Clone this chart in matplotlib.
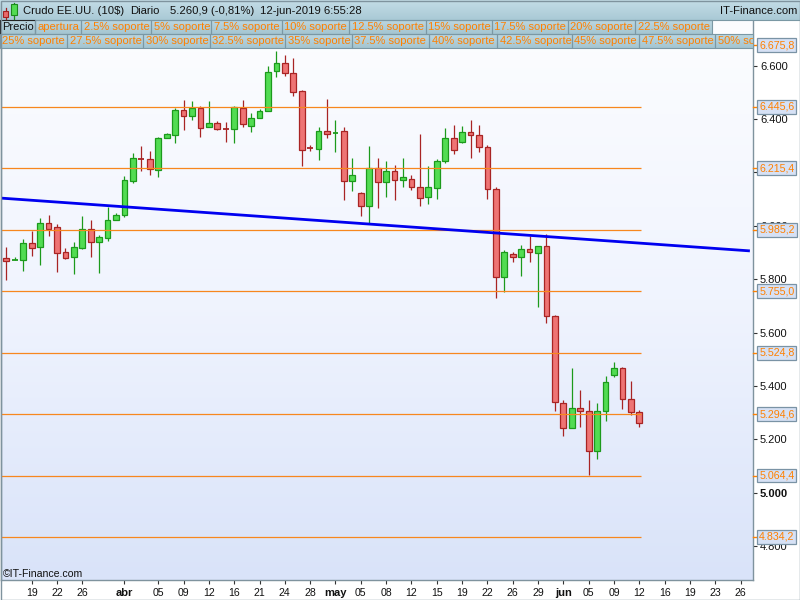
import matplotlib
matplotlib.use('Agg')
import matplotlib.pyplot as plt
import numpy as np
from matplotlib.patches import Rectangle
from matplotlib.colors import LinearSegmentedColormap

plt.rcParams['font.family'] = ['Liberation Sans', 'DejaVu Sans']

# ---------------- data (price in points, Mar 15 - Jun 12 2019, Sun-Fri sessions) -------------
opens = [5878, 5870, 5871, 5935, 5920, 6010, 5995, 5902, 5882, 5917,
         5987, 5938, 5953, 6021, 6040, 6169, 6251, 6249, 6208, 6330,
         6341, 6434, 6410, 6440, 6371, 6384, 6365, 6362, 6442, 6375,
         6405, 6429, 6579, 6609, 6572, 6504, 6294, 6289, 6355, 6348,
         6355, 6169, 6123, 6075, 6216, 6165, 6205, 6173, 6176, 6146,
         6107, 6143, 6242, 6328, 6313, 6350, 6339, 6294, 6137, 5809,
         5893, 5882, 5912, 5897, 5923, 5661, 5335, 5241, 5316, 5305,
         5155, 5305, 5440, 5466, 5350, 5301]
highs = [5921, 5882, 5950, 5982, 6029, 6041, 6007, 5917, 5939, 6037,
         6022, 5966, 6072, 6047, 6187, 6273, 6299, 6280, 6334, 6348,
         6440, 6471, 6468, 6450, 6468, 6393, 6389, 6450, 6471, 6422,
         6438, 6599, 6655, 6640, 6628, 6509, 6303, 6371, 6475, 6397,
         6370, 6254, 6127, 6299, 6254, 6243, 6228, 6254, 6190, 6344,
         6224, 6250, 6367, 6378, 6374, 6397, 6378, 6303, 6146, 5908,
         5901, 5928, 5962, 5923, 5968, 5666, 5347, 5467, 5385, 5347,
         5336, 5437, 5489, 5470, 5418, 5310]
lows = [5798, 5870, 5832, 5888, 5854, 5963, 5828, 5877, 5821, 5914,
        5884, 5824, 5944, 6021, 6034, 6162, 6207, 6192, 6184, 6329,
        6311, 6359, 6397, 6334, 6369, 6359, 6315, 6311, 6371, 6353,
        6405, 6429, 6557, 6563, 6488, 6225, 6282, 6247, 6330, 6278,
        6097, 6131, 6038, 6007, 6068, 6109, 6097, 6147, 6134, 6075,
        6081, 6099, 6234, 6268, 6309, 6255, 6278, 6102, 5731, 5753,
        5866, 5813, 5866, 5697, 5635, 5307, 5214, 5241, 5245, 5066,
        5125, 5268, 5435, 5315, 5290, 5246]
closes = [5867, 5871, 5935, 5918, 6010, 5989, 5897, 5881, 5920, 5987,
          5938, 5957, 6021, 6040, 6172, 6254, 6249, 6212, 6329, 6343,
          6434, 6413, 6440, 6368, 6384, 6364, 6363, 6444, 6380, 6403,
          6429, 6575, 6609, 6572, 6503, 6283, 6292, 6355, 6345, 6350,
          6169, 6189, 6075, 6216, 6165, 6205, 6173, 6182, 6144, 6105,
          6146, 6243, 6328, 6283, 6350, 6339, 6294, 6137, 5809, 5901,
          5882, 5912, 5901, 5923, 5661, 5339, 5241, 5316, 5305, 5155,
          5305, 5414, 5466, 5350, 5301, 5261]

tick_pos = [3, 6, 9, 14, 18, 21, 24, 27, 30, 33, 36, 39, 42, 45, 48, 51, 54,
            57, 60, 63, 66, 69, 72, 75, 78, 81, 84, 87]
tick_labels = ['19', '22', '26', 'abr', '05', '09', '12', '16', '21', '24', '28',
               'may', '05', '08', '12', '15', '19', '22', '26', '29', 'jun', '05',
               '09', '12', '16', '19', '23', '26']
month_labels = ['abr', 'may', 'jun']

support_levels = [6675.8, 6445.6, 6215.4, 5985.2, 5755.0, 5524.8, 5294.6, 5064.4, 4834.2]
trend_x = [-0.75, 88.1]
trend_y = [6104, 5906]

yticks = [4800, 5000, 5200, 5400, 5600, 5800, 6000, 6200, 6400, 6600]
hidden_ytick = 6200   # fully covered by the 6.215,4 label in the reference

header_parts = ['Crudo EE.UU. (10$)', 'Diario', '5.260,9 (-0,81%)', '12-jun-2019 6:55:28']
header_x = [23, 130, 170, 260]
row2 = ['Precio', 'apertura', '2.5% soporte', '5% soporte', '7.5% soporte', '10% soporte',
        '12.5% soporte', '15% soporte', '17.5% soporte', '20% soporte', '22.5% soporte']
row2_edges = [0, 35, 81, 151, 211, 282, 349, 426, 492, 568, 635, 712]
row3 = ['25% soporte', '27.5% soporte', '30% soporte', '32.5% soporte', '35% soporte',
        '37.5% soporte', '40% soporte', '42.5% soporte', '45% soporte', '47.5% soporte',
        '50% soporte']
row3_edges = [0, 67, 143, 210, 285, 352, 429, 497, 572, 639, 715, 790]

# ---------------- styles -------------
ORANGE = '#ff8000'
GRID_C = '#7f939e'
G_FACE, G_EDGE = '#52dc52', '#1c9a1c'
R_FACE, R_EDGE = '#ee7474', '#a82424'


def fmt_thousands(v, dec=0):
    s = f"{v:,.{dec}f}"
    return s.replace(',', 'X').replace('.', ',').replace('X', '.')


fig = plt.figure(figsize=(8, 6), dpi=100)
fig.patch.set_facecolor('white')

XMIN, XMAX = -0.63, 88.47
YMIN, YMAX = 4673, 6771
ax = fig.add_axes([1 / 800, 20 / 600, 752 / 800, 560 / 600])
ax.set_xlim(XMIN, XMAX)
ax.set_ylim(YMIN, YMAX)

# background gradient
bg_cmap = LinearSegmentedColormap.from_list('bg', ['#fcfdff', '#f0f4fe', '#d9e3f9'])
grad = np.linspace(0, 1, 256).reshape(-1, 1)
ax.imshow(grad, extent=(XMIN, XMAX, YMIN, YMAX), aspect='auto', cmap=bg_cmap,
          origin='upper', zorder=0, interpolation='bilinear')

# candles
w = 0.68
for k, (o, h, l, c) in enumerate(zip(opens, highs, lows, closes)):
    up = c >= o
    face = G_FACE if up else R_FACE
    edge = G_EDGE if up else R_EDGE
    ax.vlines(k, l, h, color=edge, lw=0.9, zorder=2)
    lo, hi = min(o, c), max(o, c)
    if hi - lo < 4:
        ax.hlines((o + c) / 2, k - w / 2, k + w / 2, color=edge, lw=1.3, zorder=3)
    else:
        ax.add_patch(Rectangle((k - w / 2, lo), w, hi - lo, facecolor=face,
                               edgecolor=edge, lw=0.9, zorder=3))

# support lines
ax.hlines(support_levels, XMIN, 75.2, colors='#f7871e', lw=0.9, zorder=4)

# trend line
ax.plot(trend_x, trend_y, color='#0000f0', lw=2.0, zorder=5, solid_capstyle='butt')

# axes styling
ax.spines['top'].set_visible(False)
for s in ['left', 'right', 'bottom']:
    ax.spines[s].set_color(GRID_C)
    ax.spines[s].set_linewidth(1.0)

ax.yaxis.tick_right()
ax.set_yticks(yticks)
ax.set_yticklabels(['' if v == hidden_ytick else fmt_thousands(v) for v in yticks])
ax.tick_params(axis='y', direction='out', length=3, width=0.8, color='#333333',
               labelsize=8, pad=2, labelcolor='#111111')
for lab, v in zip(ax.get_yticklabels(), yticks):
    if v == 5000:
        lab.set_fontweight('bold')

ax.set_xticks(tick_pos)
ax.set_xticklabels(tick_labels)
ax.tick_params(axis='x', direction='out', length=3, width=0.8, color='#333333',
               labelsize=7.6, pad=3, labelcolor='#111111')
for lab in ax.get_xticklabels():
    if lab.get_text() in month_labels:
        lab.set_fontweight('bold')
        lab.set_fontsize(8)

# support labels at right
for lvl in support_levels:
    ax.plot([XMAX, XMAX + 5 / 8.44], [lvl, lvl], color=ORANGE, lw=1, clip_on=False, zorder=6)
    ax.text(XMAX + 6.2 / 8.44, lvl, fmt_thousands(lvl, 1), color=ORANGE, fontsize=7.7,
            va='center', ha='left', clip_on=False, zorder=7,
            bbox=dict(boxstyle='square,pad=0.18', fc='#d6e1f5', ec='#7a93a5', lw=0.9))

ax.text(2 / 752, 0.011, '\u00a9IT-Finance.com', transform=ax.transAxes, fontsize=7.6,
        va='center', ha='left', color='#111111', zorder=6)

# ---------------- overlay: header and legend rows -------------
ov = fig.add_axes([0, 0, 1, 1], zorder=10)
ov.patch.set_alpha(0)
ov.axis('off')

hdr_cmap = LinearSegmentedColormap.from_list('hdr', ['#c4dde7', '#a9c9d5'])
ov.imshow(grad, extent=(0, 800, 20, 0), aspect='auto', cmap=hdr_cmap, origin='upper',
          interpolation='bilinear', zorder=1)
row_cmap = LinearSegmentedColormap.from_list('row', ['#bcd7e1', '#a4c5d1'])
ov.imshow(grad, extent=(0, 712, 34, 20), aspect='auto', cmap=row_cmap, origin='upper',
          interpolation='bilinear', zorder=1)
ov.imshow(grad, extent=(0, 753, 48, 34), aspect='auto', cmap=row_cmap, origin='upper',
          interpolation='bilinear', zorder=1)
ov.set_xlim(0, 800)
ov.set_ylim(600, 0)

ov.plot([0, 800], [20, 20], color='#7a98a4', lw=0.8, zorder=2)

for txt, x in zip(header_parts, header_x):
    ov.text(x, 10.5, txt, fontsize=8.1, va='center', ha='left', color='#111111', zorder=3)
ov.text(797, 10.5, 'IT-Finance.com', fontsize=8.1, va='center', ha='right',
        color='#111111', zorder=3)

# icon
ov.plot([6, 6], [8, 18.5], color='#a02020', lw=0.9, zorder=3)
ov.add_patch(Rectangle((3.3, 10.5), 5, 6, fc='#e86a6a', ec='#a02020', lw=0.8, zorder=4))
ov.plot([14, 14], [2.5, 18.5], color='#1c8a1c', lw=0.9, zorder=3)
ov.add_patch(Rectangle((11.3, 4), 5.3, 11, fc='#52dc52', ec='#1c8a1c', lw=0.8, zorder=4))

for labels, edges, y0, y1 in [(row2, row2_edges, 20, 34), (row3, row3_edges, 34, 48)]:
    for i, txt in enumerate(labels):
        x0, x1 = edges[i], min(edges[i + 1], 753)
        r = Rectangle((x0, y0), x1 - x0, y1 - y0, fill=False,
                      ec='#222222' if txt == 'Precio' else '#7b98a4', lw=0.8, zorder=2)
        ov.add_patch(r)
        t = ov.text(x0 + 2.5, (y0 + y1) / 2 + 0.5, txt, fontsize=8,
                    color='#111111' if txt == 'Precio' else ORANGE,
                    va='center', ha='left', zorder=3)
        if edges[i + 1] > 753:
            clip_rect = Rectangle((0, 0), 753, 600, transform=ov.transData)
            t.set_clip_on(True)
            t.set_clip_path(clip_rect)

# figure border
ov.add_patch(Rectangle((0.5, 0.5), 799, 599, fill=False, ec=GRID_C, lw=1, zorder=5))

fig.savefig('out.png', dpi=100, facecolor='white')
